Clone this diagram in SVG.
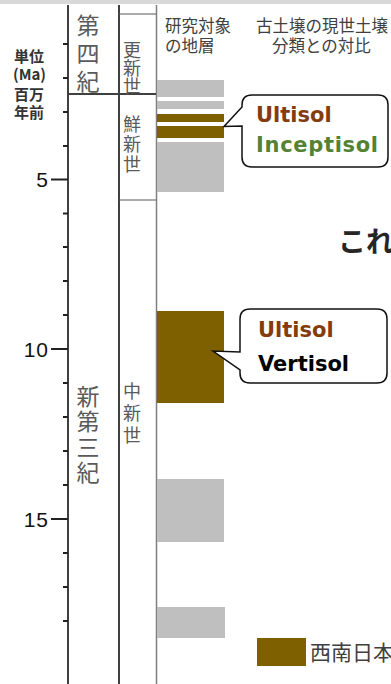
<svg xmlns="http://www.w3.org/2000/svg" width="391" height="684" viewBox="0 0 391 684">
<style>
.ax{stroke:#404040;stroke-width:2;fill:none}
.thin{stroke:#595959;stroke-width:1;fill:none}
.tk{stroke:#222;stroke-width:2}
.num{font-family:"Liberation Sans",Arial,sans-serif;font-size:21px;fill:#111;text-anchor:end;letter-spacing:1px}
.unit{font-family:"Noto Sans CJK JP",sans-serif;font-weight:bold;font-size:15px;fill:#333}
.vt{writing-mode:vertical-rl;font-family:"Noto Sans CJK JP",sans-serif;fill:#5a5a5a}
.era{font-size:23px}
.ep{font-size:18px}
.hd{font-family:"Noto Sans CJK JP",sans-serif;font-size:16.5px;fill:#404040}
.gr{fill:#bfbfbf}
.br{fill:#7f6000}
.co{fill:#fff;stroke:#111;stroke-width:1.5}
.cl{font-family:"DejaVu Sans",Verdana,sans-serif;font-weight:bold;font-size:21px}
</style>
<rect x="0" y="0" width="391" height="4" fill="#d9d9d9"/>
<g id="axis">
<line class="ax" x1="68" y1="5" x2="68" y2="684"/>
<line class="ax" x1="119" y1="5" x2="119" y2="684"/>
<line x1="156.5" y1="5" x2="156.5" y2="684" stroke="#7f7f7f" stroke-width="1.5"/>
<line class="thin" x1="119" y1="14" x2="156" y2="14"/>
<line class="ax" x1="68" y1="94" x2="156" y2="94"/>
<line class="thin" x1="119" y1="200" x2="156" y2="200"/>
<g class="tk">
<line x1="63" y1="44" x2="68" y2="44"/>
<line x1="63" y1="78" x2="68" y2="78"/>
<line x1="63" y1="112" x2="68" y2="112"/>
<line x1="63" y1="146" x2="68" y2="146"/>
<line x1="51" y1="179.5" x2="68" y2="179.5"/>
<line x1="63" y1="213.5" x2="68" y2="213.5"/>
<line x1="63" y1="247" x2="68" y2="247"/>
<line x1="63" y1="281" x2="68" y2="281"/>
<line x1="63" y1="315" x2="68" y2="315"/>
<line x1="51" y1="349" x2="68" y2="349"/>
<line x1="63" y1="383" x2="68" y2="383"/>
<line x1="63" y1="417" x2="68" y2="417"/>
<line x1="63" y1="451" x2="68" y2="451"/>
<line x1="63" y1="485" x2="68" y2="485"/>
<line x1="51" y1="519" x2="68" y2="519"/>
<line x1="63" y1="553" x2="68" y2="553"/>
<line x1="63" y1="587" x2="68" y2="587"/>
<line x1="63" y1="621" x2="68" y2="621"/>
</g>
<text class="num" x="49" y="187">5</text>
<text class="num" x="49" y="357">10</text>
<text class="num" x="49" y="527">15</text>
<text class="unit"><tspan x="14" y="62">単位</tspan><tspan x="13" y="80">(Ma)</tspan><tspan x="14" y="100">百万</tspan><tspan x="14" y="118">年前</tspan></text>
</g>
<g id="quaternary">
<text class="vt era" x="88" y="13.5" letter-spacing="5">第四紀</text>
</g>
<g id="neogene">
<text class="vt era" x="88" y="384.5" letter-spacing="2.5">新第三紀</text>
</g>
<g id="pleistocene">
<text class="vt ep" x="132" y="41" letter-spacing="0">更新世</text>
</g>
<g id="pliocene">
<text class="vt ep" x="132" y="115" letter-spacing="2">鮮新世</text>
</g>
<g id="miocene">
<text class="vt ep" x="132" y="382" letter-spacing="4">中新世</text>
</g>
<g id="headings">
<text class="hd"><tspan x="165" y="32">研究対象</tspan><tspan x="165" y="52">の地層</tspan></text>
<text class="hd"><tspan x="256" y="32">古土壌の現世土壌</tspan><tspan x="272" y="52">分類との対比</tspan></text>
</g>
<g id="strata">
<rect class="gr" x="157" y="80" width="67" height="17"/>
<rect class="gr" x="157" y="101" width="67" height="8"/>
<rect class="br" x="157" y="114" width="67" height="8"/>
<rect class="br" x="157" y="126" width="67" height="12"/>
<rect class="gr" x="157" y="142" width="67" height="50"/>
<rect class="br" x="157" y="311" width="67" height="92"/>
<rect class="gr" x="157" y="479" width="67" height="63"/>
<rect class="gr" x="157" y="607" width="68" height="31"/>
</g>
<g id="connectors"></g>
<g id="callout1">
<path class="co" d="M252 95 H378 Q388 95 388 105 V157 Q388 167 378 167 H252 Q242 167 242 157 V126 L224 126.5 L242 107 V105 Q242 95 252 95 Z"/>
<text class="cl" x="256" y="122" fill="#843c0c">Ultisol</text>
<text class="cl" x="256" y="152" fill="#548235" textLength="122" lengthAdjust="spacing">Inceptisol</text>
</g>
<g id="callout2">
<path class="co" d="M250 309 H377 Q387 309 387 319 V373 Q387 383 377 383 H250 Q240 383 240 373 V370 L213 351 L240 352 V319 Q240 309 250 309 Z"/>
<text class="cl" x="258" y="337" fill="#843c0c">Ultisol</text>
<text class="cl" x="258" y="371" fill="#000">Vertisol</text>
</g>
<g id="title">
<text x="338" y="252" font-family="'Noto Sans CJK JP',sans-serif" font-weight="bold" font-size="28" fill="#262626">これ</text>
</g>
<g id="legend">
<rect class="br" x="257" y="638" width="49" height="28"/>
<text x="310" y="660" font-family="'Noto Sans CJK JP',sans-serif" font-size="21" fill="#404040">西南日本</text>
</g>
</svg>
